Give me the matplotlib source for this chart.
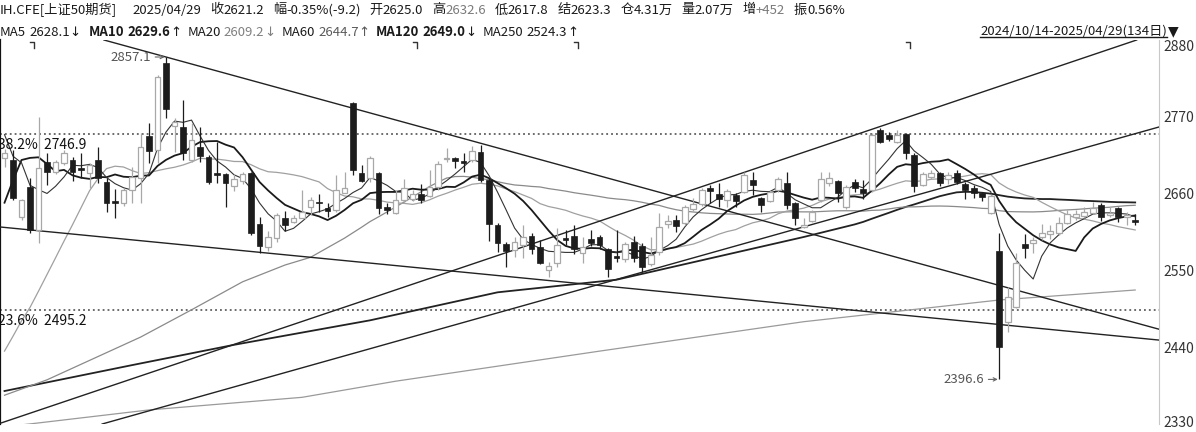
import matplotlib
matplotlib.use("Agg")
import matplotlib.pyplot as plt
from matplotlib.patches import Rectangle
from matplotlib.lines import Line2D
from matplotlib.transforms import IdentityTransform
import numpy as np
import pandas as pd

plt.rcParams['font.family'] = ['Noto Sans CJK SC', 'DejaVu Sans']

# ---------------- data ----------------
opens = [2713, 2710, 2629, 2671, 2610, 2707, 2693, 2706, 2710, 2698,
         2691, 2710, 2679, 2651, 2649, 2667, 2684, 2744, 2724, 2849,
         2759, 2757, 2710, 2729, 2714, 2691, 2690, 2673, 2680, 2691,
         2619, 2586, 2599, 2627, 2621, 2627, 2643, 2650, 2641, 2639,
         2663, 2791, 2691, 2684, 2691, 2643, 2634, 2653, 2654, 2661,
         2659, 2671, 2711, 2713, 2709, 2710, 2721, 2681, 2617, 2590,
         2581, 2589, 2601, 2586, 2553, 2563, 2599, 2601, 2577, 2597,
         2600, 2583, 2573, 2569, 2593, 2587, 2561, 2578, 2619, 2624,
         2620, 2640, 2647, 2670, 2661, 2653, 2660, 2664, 2681, 2656,
         2651, 2667, 2677, 2649, 2614, 2623, 2653, 2677, 2680, 2643,
         2679, 2669, 2667, 2753, 2746, 2736, 2747, 2717, 2674, 2686,
         2691, 2683, 2691, 2676, 2670, 2663, 2634, 2580, 2479, 2500,
         2590, 2591, 2600, 2604, 2606, 2620, 2629, 2630, 2634, 2646,
         2631, 2641, 2629, 2625.0]
highs = [2726, 2724, 2655, 2684, 2771, 2720, 2710, 2724, 2714, 2720,
         2706, 2729, 2684, 2669, 2670, 2700, 2749, 2763, 2831, 2857.1,
         2770, 2796, 2763, 2757, 2717, 2736, 2691, 2690, 2693, 2693,
         2629, 2609, 2634, 2637, 2631, 2667, 2657, 2661, 2649, 2689,
         2693, 2793, 2703, 2716, 2693, 2649, 2667, 2683, 2667, 2676,
         2696, 2709, 2727, 2714, 2720, 2730, 2731, 2684, 2620, 2593,
         2600, 2617, 2606, 2596, 2564, 2613, 2610, 2617, 2600, 2610,
         2603, 2584, 2610, 2593, 2601, 2591, 2600, 2634, 2631, 2631,
         2646, 2656, 2670, 2674, 2677, 2669, 2663, 2693, 2693, 2657,
         2667, 2686, 2693, 2650, 2627, 2639, 2693, 2693, 2681, 2674,
         2683, 2681, 2749, 2756, 2750, 2753, 2749, 2720, 2693, 2696,
         2693, 2693, 2696, 2679, 2674, 2664, 2661, 2606, 2529, 2577,
         2604, 2600, 2619, 2617, 2629, 2639, 2639, 2643, 2650, 2649,
         2643, 2643, 2636, 2632.6]
lows = [2700, 2653, 2625, 2606, 2591, 2674, 2690, 2703, 2680, 2684,
        2670, 2677, 2636, 2627, 2644, 2649, 2649, 2706, 2706, 2770,
        2721, 2710, 2707, 2707, 2676, 2677, 2643, 2666, 2676, 2603,
        2577, 2580, 2593, 2609, 2620, 2627, 2631, 2636, 2629, 2636,
        2663, 2689, 2679, 2679, 2633, 2633, 2633, 2649, 2651, 2649,
        2657, 2667, 2707, 2699, 2693, 2707, 2679, 2594, 2579, 2557,
        2571, 2570, 2576, 2561, 2543, 2557, 2589, 2576, 2563, 2587,
        2583, 2543, 2564, 2564, 2564, 2550, 2559, 2574, 2613, 2607,
        2617, 2637, 2644, 2649, 2643, 2643, 2643, 2663, 2660, 2636,
        2650, 2664, 2640, 2617, 2613, 2621, 2650, 2673, 2650, 2640,
        2664, 2654, 2664, 2734, 2737, 2734, 2711, 2664, 2673, 2683,
        2673, 2676, 2676, 2654, 2656, 2651, 2633, 2396.6, 2464, 2499,
        2570, 2577, 2596, 2597, 2603, 2619, 2624, 2627, 2633, 2623,
        2629, 2621, 2617, 2617.8]
closes = [2720, 2656, 2653, 2610, 2699, 2693, 2707, 2720, 2693, 2696,
          2703, 2684, 2649, 2649, 2667, 2686, 2729, 2723, 2829, 2783,
          2764, 2720, 2739, 2716, 2679, 2689, 2677, 2683, 2690, 2606,
          2587, 2600, 2631, 2617, 2627, 2636, 2653, 2648, 2637, 2667,
          2670, 2696, 2680, 2713, 2641, 2639, 2653, 2670, 2661, 2653,
          2671, 2704, 2713, 2709, 2706, 2723, 2681, 2619, 2591, 2580,
          2593, 2600, 2583, 2563, 2559, 2589, 2596, 2583, 2586, 2591,
          2589, 2554, 2570, 2590, 2570, 2557, 2574, 2614, 2623, 2616,
          2643, 2647, 2667, 2666, 2654, 2666, 2651, 2689, 2674, 2646,
          2664, 2683, 2646, 2627, 2617, 2636, 2683, 2684, 2663, 2671,
          2670, 2663, 2746, 2736, 2740, 2746, 2720, 2673, 2690, 2691,
          2677, 2689, 2679, 2667, 2663, 2657, 2659, 2443, 2514, 2563,
          2584, 2596, 2606, 2609, 2620, 2633, 2633, 2636, 2641, 2629,
          2634, 2629, 2631, 2621.2]
# closes before the window (estimated from where the MA lines start)
prior_closes = [2230, 2215, 2225, 2235, 2220, 2230, 2240, 2225, 2215, 2215,
                2336, 2363, 2580, 2690, 2790, 2810, 2700, 2771, 2730]

# long moving averages read from the picture where the window is not covered
ma60_idx = [0, 5, 16, 22, 28, 33, 36]
ma60_val = [2374, 2396, 2457, 2496, 2536, 2560, 2571]
ma120_idx = [0, 15, 27, 43, 58, 72, 94]
ma120_val = [2380, 2417, 2446, 2481, 2521, 2539, 2600]
ma250_idx = [0, 3, 17, 35, 46, 70, 94, 117, 133]
ma250_val = [2329, 2333, 2353, 2371, 2394, 2437, 2479, 2510, 2524.3]

# drawn trend lines: two anchor points (candle index, price)
trend_lines = [((19, 2857.1), (133, 2477.6)),
               ((0, 2613.7), (133, 2456.1)),
               ((0, 2336.0), (133, 2880.7)),
               ((0, 2293.7), (133, 2747.6))]
fib_levels = [2746.9, 2495.2]
fib_labels = ['38.2%', '23.6%']
y_ticks = [2330, 2440, 2550, 2660, 2770, 2880]
event_idx = [3, 48, 67, 106]
high_mark = (19, 2857.1)
low_mark = (117, 2396.6)

# header texts
header_row1 = [[('IH.CFE[上证50期货]', 'k')],
               [('2025/04/29', 'k')],
               [('收', 'k'), ('2621.2', 'k')],
               [('幅', 'k'), ('-0.35%(-9.2)', 'k')],
               [('开', 'k'), ('2625.0', 'k')],
               [('高', 'k'), ('2632.6', 'g')],
               [('低', 'k'), ('2617.8', 'k')],
               [('结', 'k'), ('2623.3', 'k')],
               [('仓', 'k'), ('4.31万', 'k')],
               [('量', 'k'), ('2.07万', 'k')],
               [('增', 'k'), ('+452', 'g')],
               [('振', 'k'), ('0.56%', 'k')]]
ma_names = ['MA5', 'MA10', 'MA20', 'MA60', 'MA120', 'MA250']
ma_values = ['2628.1', '2629.6', '2609.2', '2644.7', '2649.0', '2524.3']
ma_arrows = ['↓', '↑', '↓', '↑', '↓', '↑']
ma_bold = [False, True, False, False, True, False]
ma_value_colors = ['#1a1a1a', '#1a1a1a', '#808080', '#5a5a5a', '#1a1a1a', '#1a1a1a']
range_text = '2024/10/14-2025/04/29(134日)'

# ---------------- figure ----------------
W, H = 1196, 432
fig = plt.figure(figsize=(W / 100, H / 100), dpi=100)
ax = fig.add_axes([0, 8 / H, 1159 / W, 384 / H])
ax.set_xlim(-0.53, 135.8)
ax.set_ylim(2332.9, 2881.4)
ax.set_xticks([])
ax.set_yticks([])
ax.spines['top'].set_visible(False)
ax.spines['bottom'].set_visible(False)
ax.spines['right'].set_color('#c8c8c8')
ax.spines['left'].set_color('#111111')
ax.spines['left'].set_linewidth(1.6)

DARK = '#1c1c1c'
GREY = '#a8a8a8'

# moving averages
all_c = pd.Series(prior_closes + closes, dtype=float)
off = len(prior_closes)
n = len(closes)
idx = np.arange(n)
ma5 = all_c.rolling(5).mean().to_numpy()[off:]
ma10 = all_c.rolling(10).mean().to_numpy()[off:]
ma20 = all_c.rolling(20).mean().to_numpy()[off:]
ma60c = all_c.rolling(60).mean().to_numpy()[off:]
ma120c = all_c.rolling(120).mean().to_numpy()[off:]

s60 = int(np.argmax(~np.isnan(ma60c)))
s120 = int(np.argmax(~np.isnan(ma120c)))
ma60_x = list(ma60_idx) + list(idx[s60:])
ma60_y = list(ma60_val) + list(ma60c[s60:])
ma120_x = list(ma120_idx) + list(idx[s120:])
ma120_y = list(ma120_val) + list(ma120c[s120:])

ax.plot(ma250_idx, ma250_val, color='#9a9a9a', lw=0.9, zorder=3)
ax.plot(ma120_x, ma120_y, color='#222222', lw=1.3, zorder=3)
ax.plot(ma60_x, ma60_y, color='#8a8a8a', lw=0.9, zorder=3)
ax.plot(idx, ma20, color='#a0a0a0', lw=0.9, zorder=3)
ax.plot(idx, ma10, color='#1a1a1a', lw=1.3, zorder=3)
ax.plot(idx, ma5, color='#333333', lw=0.8, zorder=3)

for p0, p1 in trend_lines:
    ax.axline(p0, p1, color='#222222', lw=1.0, zorder=3)

for lv, lb in zip(fib_levels, fib_labels):
    ax.axhline(lv, color='#444444', lw=1.1, ls=(0, (1.2, 2.0)), zorder=2)
    ax.annotate(f'{lb}  {lv:.1f}', xy=(0, lv), xycoords=('axes fraction', 'data'),
                xytext=(-2, -4), textcoords='offset pixels', ha='left', va='top',
                fontsize=10, color='#111111', zorder=6)

# candles
bw = 0.68
for i in range(n):
    o, h, l, c = opens[i], highs[i], lows[i], closes[i]
    lo_b, hi_b = min(o, c), max(o, c)
    if c >= o:
        ax.vlines(i, l, lo_b, color=GREY, lw=0.9, zorder=4)
        ax.vlines(i, hi_b, h, color=GREY, lw=0.9, zorder=4)
        ax.add_patch(Rectangle((i - bw / 2, lo_b), bw, max(hi_b - lo_b, 1.5),
                               facecolor='white', edgecolor=GREY, lw=0.9, zorder=5))
    else:
        ax.vlines(i, l, h, color=DARK, lw=0.9, zorder=4)
        ax.add_patch(Rectangle((i - bw / 2, lo_b), bw, max(hi_b - lo_b, 2.5),
                               facecolor=DARK, edgecolor=DARK, lw=0.5, zorder=5))

# high / low marks
for (mi, mv) in (high_mark, low_mark):
    ax.annotate(f'{mv:.1f}', xy=(mi, mv), xytext=(-15, 0), textcoords='offset pixels',
                ha='right', va='center', fontsize=9.5, color='#555555', zorder=7,
                arrowprops=dict(arrowstyle='->', color='#666666', lw=0.8,
                                shrinkA=1, shrinkB=1, mutation_scale=6))

# right axis labels
for v in y_ticks:
    dy = 0
    if v == y_ticks[-1]:
        dy = -6
    if v == y_ticks[0]:
        dy = 3
    ax.annotate(str(v), xy=(1, v), xycoords=('axes fraction', 'data'),
                xytext=(4, dy), textcoords='offset pixels', ha='left', va='center',
                fontsize=10, color='#333333', annotation_clip=False)

fig.canvas.draw()
renderer = fig.canvas.get_renderer()

# event markers at top
top_px = H - 40
for e in event_idx:
    xd, _ = ax.transData.transform((e, 2700))
    xr = xd + 4
    fig.add_artist(Line2D([xr - 4, xr, xr], [top_px - 2, top_px - 2, top_px - 8],
                          transform=IdentityTransform(), color='#333333', lw=1.0))

# header
COL = {'k': '#1a1a1a', 'g': '#7a7a7a'}
FS = 9.5


def make_group(pieces):
    arts = []
    for p in pieces:
        txt, col, wt = p[:3]
        fam = p[3] if len(p) > 3 else None
        kw = dict(transform=IdentityTransform(), ha='left', va='center',
                  fontsize=FS, color=col, fontweight=wt)
        if fam:
            kw['family'] = fam
        arts.append(fig.text(0, 0, txt, **kw))
    return arts


def width(t):
    return t.get_window_extent(renderer).width


def place_row(groups, y, x_start, x_end=None, gap=8.0, first_gap=None, inner=None):
    widths = [[width(t) for t in g] for g in groups]
    inner = inner or [[0.0] * len(g) for g in groups]
    tot = [sum(w) + sum(ig[:-1]) for w, ig in zip(widths, inner)]
    ng = len(groups)
    fg = first_gap if first_gap is not None else gap
    if x_end is not None:
        gap = (x_end - x_start - sum(tot) - fg) / (ng - 2)
    x = x_start
    for k, (g, w, ig) in enumerate(zip(groups, widths, inner)):
        xx = x
        for t, wi, gi in zip(g, w, ig):
            t.set_position((xx, H - y))
            xx += wi + gi
        x += tot[k] + (fg if k == 0 else gap)


row1_groups = [make_group([(txt, COL[c], 'normal') for txt, c in grp]) for grp in header_row1]
place_row(row1_groups, 10, 0, x_end=845, first_gap=15)

row2_groups = []
row2_inner = []
for nm, val, ar, b, vc in zip(ma_names, ma_values, ma_arrows, ma_bold, ma_value_colors):
    wt = 'bold' if b else 'normal'
    row2_groups.append(make_group([(nm, '#1a1a1a', wt), (val, vc, wt),
                                   (ar, vc, 'normal', ['DejaVu Sans'])]))
    row2_inner.append([3.0, 0.0, 0.0])
place_row(row2_groups, 32, 0, x_end=578, inner=row2_inner)

t = fig.text(1167, H - 31, range_text, transform=IdentityTransform(),
             ha='right', va='center', fontsize=FS, color='#1a1a1a')
bb = t.get_window_extent(renderer)
fig.add_artist(Line2D([bb.x0, bb.x1], [bb.y0 + 1, bb.y0 + 1], transform=IdentityTransform(),
                      color='#1a1a1a', lw=1.0))
fig.text(1168, H - 31, '▼', transform=IdentityTransform(), ha='left', va='center',
         fontsize=10, color='#1a1a1a', family=['DejaVu Sans'])

fig.savefig('out.png', dpi=100)
